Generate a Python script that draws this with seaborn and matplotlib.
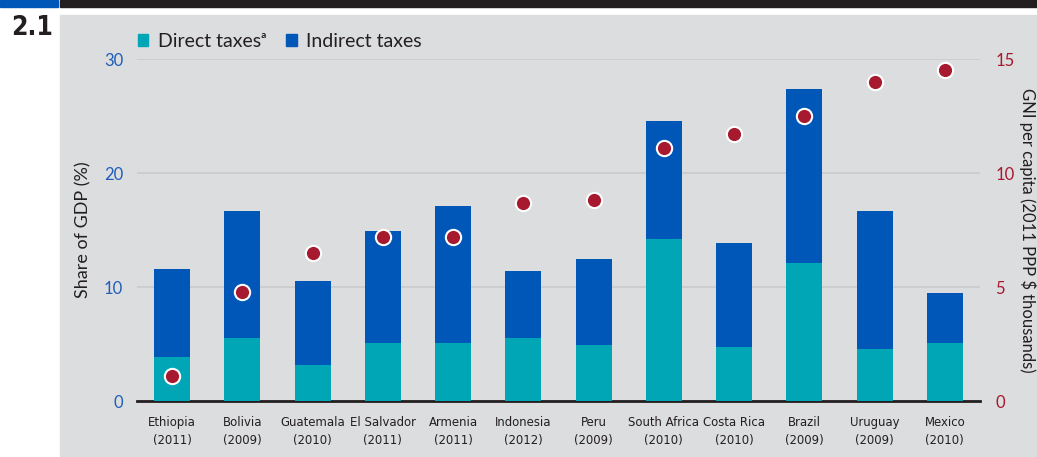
import matplotlib.pyplot as plt
import matplotlib.patches as mpatches
from matplotlib import font_manager
import pandas as pd
import seaborn as sns

# Data
countries = ['Ethiopia\n(2011)', 'Bolivia\n(2009)', 'Guatemala\n(2010)', 'El Salvador\n(2011)',
             'Armenia\n(2011)', 'Indonesia\n(2012)', 'Peru\n(2009)', 'South Africa\n(2010)',
             'Costa Rica\n(2010)', 'Brazil\n(2009)', 'Uruguay\n(2009)', 'Mexico\n(2010)']
direct_taxes = [3.9, 5.5, 3.2, 5.1, 5.1, 5.5, 4.9, 14.2, 4.7, 12.1, 4.6, 5.1]
indirect_taxes = [7.7, 11.2, 7.3, 9.8, 12.0, 5.9, 7.6, 10.4, 9.2, 15.3, 12.1, 4.4]
gni_per_capita = [1.1, 4.8, 6.5, 7.2, 7.2, 8.7, 8.8, 11.1, 11.7, 12.5, 14.0, 14.5]

df = pd.DataFrame({'country': countries, 'direct': direct_taxes,
                   'indirect': indirect_taxes, 'gni': gni_per_capita})
df['total'] = df['direct'] + df['indirect']

TEAL = '#00a6b6'
BLUE = '#0057b8'
RED = '#a6192e'
PANEL = '#dcdddf'
TXT = '#231f20'


def is_narrow(f):
    return 'Narrow' in f.name or 'Condensed' in f.name or str(f.stretch) == 'condensed'


# look for narrow / condensed faces (regular for country labels, bold for the figure number)
narrow_reg, narrow_bold = None, None
for f in font_manager.fontManager.ttflist:
    if not is_narrow(f) or f.style != 'normal':
        continue
    if f.weight in (400, 'normal', 'regular') and narrow_reg is None:
        narrow_reg = f
    if f.weight in (700, 'bold') and narrow_bold is None:
        narrow_bold = f

if narrow_reg is not None:
    xfont = font_manager.FontProperties(fname=narrow_reg.fname, size=9.4)
else:
    xfont = font_manager.FontProperties(family='Roboto', size=9)
if narrow_bold is not None:
    bigfont = font_manager.FontProperties(fname=narrow_bold.fname, size=19)
else:
    bigfont = font_manager.FontProperties(family='Roboto', size=18, weight='bold')

sns.set_style('white')
plt.rcParams['font.family'] = ['Lato', 'DejaVu Sans']

fig = plt.figure(figsize=(10.37, 4.57), dpi=100)

# header decorations and grey panel
fig.patches.append(mpatches.Rectangle((60 / 1037, 0), 977 / 1037, 1 - 15 / 457,
                                      transform=fig.transFigure, color=PANEL, zorder=-10))
fig.patches.append(mpatches.Rectangle((60 / 1037, 1 - 7 / 457), 977 / 1037, 7 / 457,
                                      transform=fig.transFigure, color='#231f20', zorder=-10))
fig.patches.append(mpatches.Rectangle((0, 1 - 7 / 457), 58 / 1037, 7 / 457,
                                      transform=fig.transFigure, color=BLUE, zorder=-10))
fig.text(11 / 1037, 1 - 28 / 457, '2.1', fontproperties=bigfont, color=TXT,
         va='center', ha='left')

ax = fig.add_axes([137 / 1037, 1 - 401 / 457, 843 / 1037, 342 / 457])
ax.patch.set_alpha(0)

# stacked bars: total first (indirect colour), direct on top of it
sns.barplot(data=df, x='country', y='total', color=BLUE, width=0.51, saturation=1,
            linewidth=0, ax=ax, zorder=2)
sns.barplot(data=df, x='country', y='direct', color=TEAL, width=0.51, saturation=1,
            linewidth=0, ax=ax, zorder=3)

ax.set_ylim(0, 30)
ax.set_xlim(-0.5, len(countries) - 0.5)
ax.set_yticks([0, 10, 20, 30])
ax.grid(axis='y', color='#c9cacc', linewidth=1.2, zorder=1)
ax.set_axisbelow(True)
for s in ['top', 'right', 'left']:
    ax.spines[s].set_visible(False)
ax.spines['bottom'].set_color('#231f20')
ax.spines['bottom'].set_linewidth(2)
ax.tick_params(axis='y', length=0, labelcolor='#1f5fb8', labelsize=12, pad=10)
ax.tick_params(axis='x', length=0, labelcolor=TXT, pad=11)
for lab in ax.get_xticklabels():
    lab.set_fontproperties(xfont)
    lab.set_linespacing(1.5)
ax.set_xlabel('')
ax.set_ylabel('Share of GDP (%)', fontsize=13, color=TXT, labelpad=9)

# GNI dots on the right axis
ax2 = ax.twinx()
sns.stripplot(data=df, x='country', y='gni', jitter=False, color=RED, size=11,
              edgecolor='white', linewidth=1.5, ax=ax2, zorder=5)
ax2.set_ylim(0, 15)
ax2.set_yticks([0, 5, 10, 15])
for s in ['top', 'right', 'left', 'bottom']:
    ax2.spines[s].set_visible(False)
ax2.tick_params(axis='y', length=0, labelcolor=RED, labelsize=12, pad=11)
ax2.set_xlabel('')
ax2.set_ylabel('GNI per capita (2011 PPP $ thousands)', fontsize=12, color=TXT,
               rotation=270, labelpad=16)

handles = [mpatches.Patch(color=TEAL, label='Direct taxes\u1d43'),
           mpatches.Patch(color=BLUE, label='Indirect taxes')]
leg = ax.legend(handles=handles, loc='lower left', bbox_to_anchor=(-0.02, 0.975), ncol=2,
                frameon=False, fontsize=14, handlelength=0.55, handleheight=0.55,
                handletextpad=0.5, columnspacing=1.0, labelcolor=TXT)
for t in leg.get_texts():
    t.set_family(['Lato', 'DejaVu Sans'])

fig.savefig('out.png', dpi=100, facecolor='white')
